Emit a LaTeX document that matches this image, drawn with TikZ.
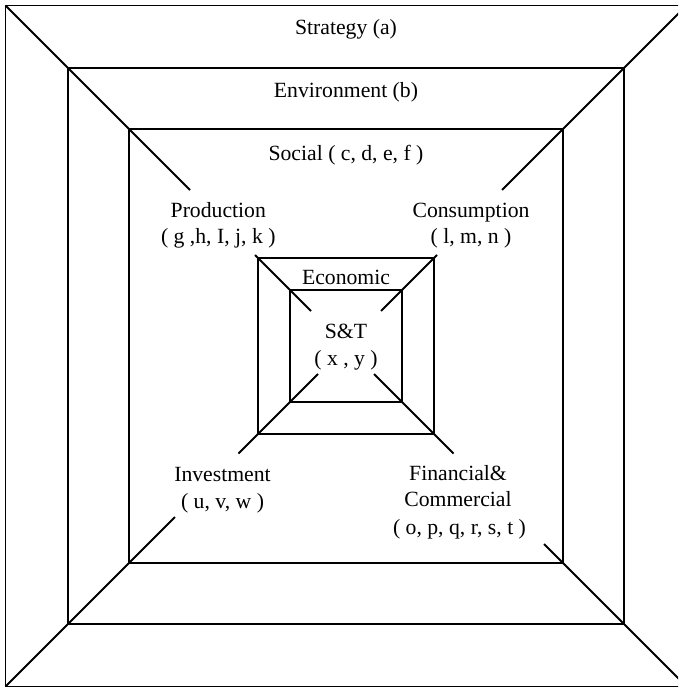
\documentclass[tikz,border=0pt]{standalone}
\usepackage{fontspec}
\setmainfont{Liberation Serif}
\begin{document}
\begin{tikzpicture}[x=1pt,y=-1pt,line width=1.9pt,
  lbl/.style={anchor=base,inner sep=0pt,font=\fontsize{21.7}{26}\selectfont}]
\useasboundingbox (0,0) rectangle (678,687);
\clip (0,0) rectangle (678,687);
% nested squares
\draw (5.5,5.5) rectangle (686.5,686.5);
\draw (68.3,68.3) rectangle (623.7,623.7);
\draw (129.4,129.4) rectangle (562.6,562.6);
\draw (257.7,257.7) rectangle (434.3,434.3);
\draw (289.8,289.8) rectangle (402.2,402.2);
% diagonal end points
\coordinate (tl0) at (5.5,5.5);
\coordinate (tl1) at (190,190);
\coordinate (tl2) at (255,255);
\coordinate (tl3) at (311,311);
\coordinate (tr0) at (686.5,5.5);
\coordinate (tr1) at (502,190);
\coordinate (tr2) at (437,255);
\coordinate (tr3) at (381,311);
\coordinate (bl0) at (5.5,686.5);
\coordinate (bl1) at (175,517);
\coordinate (bl2) at (238.5,453.5);
\coordinate (bl3) at (318,374);
\coordinate (br0) at (686.5,686.5);
\coordinate (br1) at (544,544);
\coordinate (br2) at (453.5,453.5);
\coordinate (br3) at (374,374);
\draw (tl0) -- (tl1);
\draw (tl2) -- (tl3);
\draw (tr0) -- (tr1);
\draw (tr2) -- (tr3);
\draw (bl0) -- (bl1);
\draw (bl2) -- (bl3);
\draw (br0) -- (br1);
\draw (br2) -- (br3);
% labels
\node[lbl] (strat) at (346,35) {Strategy (a)};
\node[lbl] (env) at (346,98) {Environment (b)};
\node[lbl] (soc) at (346,160.5) {Social ( c, d, e, f )};
\node[lbl] (prod) at (218.3,217) {Production};
\node[lbl] (prodv) at (218.3,243.5) {( g ,h, I, j, k )};
\node[lbl] (cons) at (471,217) {Consumption};
\node[lbl] (consv) at (471,243.5) {( l, m, n )};
\node[lbl] (eco) at (346,284) {Economic};
\node[lbl] (st) at (346,338.5) {S\&T};
\node[lbl] (stv) at (346,365) {( x , y )};
\node[lbl] (inv) at (222.5,481) {Investment};
\node[lbl] (invv) at (222.5,508) {( u, v, w )};
\node[lbl] (fin) at (458,480) {Financial\&};
\node[lbl] (com) at (458,506.5) {Commercial};
\node[lbl] (finv) at (459.5,534) {( o, p, q, r, s, t )};
\end{tikzpicture}
\end{document}
